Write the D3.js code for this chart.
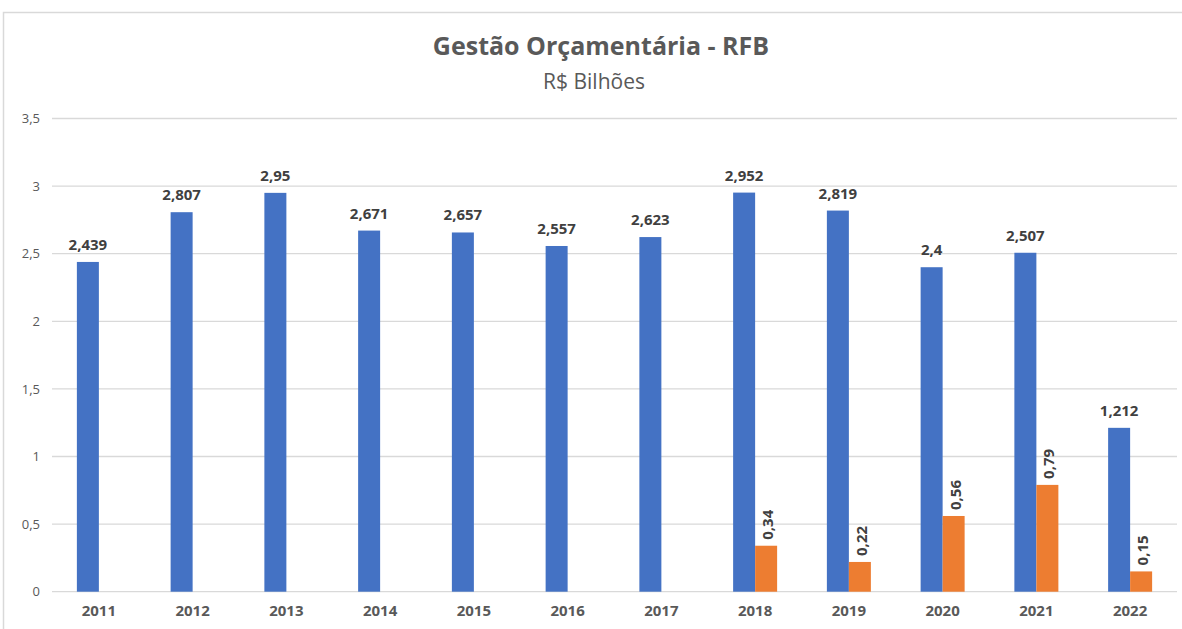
<!DOCTYPE html>
<html>
<head>
<meta charset="utf-8">
<script src="https://cdn.jsdelivr.net/npm/d3@7"></script>
<style>
  body { margin: 0; background: #fff; }
  svg { display: block; font-family: "Open Sans", "Liberation Sans", sans-serif; }
</style>
</head>
<body>
<div id="chart"></div>
<script>
// data
var years = ["2011", "2012", "2013", "2014", "2015", "2016", "2017", "2018", "2019", "2020", "2021", "2022"];
var serie1 = [2.439, 2.807, 2.95, 2.671, 2.657, 2.557, 2.623, 2.952, 2.819, 2.4, 2.507, 1.212];
var serie2 = [null, null, null, null, null, null, null, 0.34, 0.22, 0.56, 0.79, 0.15];
var y_ticks = [0, 0.5, 1, 1.5, 2, 2.5, 3, 3.5];

var W = 1182, H = 629;
var margin = {top: 118.5, right: 5, bottom: 37.3, left: 52};
var width = 1177 - margin.left,
    height = H - margin.top - margin.bottom;

var fmt = function(v) { return String(v).replace(".", ","); };

var svg = d3.select("#chart").append("svg")
    .attr("width", W)
    .attr("height", H);

// outer chart border
svg.append("rect")
    .attr("x", 3.5).attr("y", 12.5)
    .attr("width", W + 10).attr("height", H + 10)
    .attr("fill", "white")
    .attr("stroke", "#d9d9d9")
    .attr("stroke-width", 1.5);

// titles
svg.append("text")
    .attr("x", 601).attr("y", 55)
    .attr("text-anchor", "middle")
    .attr("font-size", "25px")
    .attr("font-weight", "bold")
    .attr("fill", "#595959")
    .text("Gestão Orçamentária - RFB");

svg.append("text")
    .attr("x", 594).attr("y", 89)
    .attr("text-anchor", "middle")
    .attr("font-size", "21px")
    .attr("fill", "#595959")
    .text("R$ Bilhões");

var g = svg.append("g")
    .attr("transform", "translate(" + margin.left + "," + margin.top + ")");

var x = d3.scaleBand().domain(years).range([0, width]).paddingInner(0).paddingOuter(0);
var barW = 22;
var y = d3.scaleLinear().domain([0, 3.5]).range([height, 0]);

// grid lines
g.append("g")
    .selectAll("line")
    .data(y_ticks)
    .enter()
    .append("line")
    .attr("x1", 0).attr("x2", width)
    .attr("y1", d => y(d)).attr("y2", d => y(d))
    .style("stroke", "#d9d9d9")
    .style("stroke-width", 1.3);

// y axis labels
g.append("g")
    .call(d3.axisLeft(y).tickValues(y_ticks).tickFormat(fmt).tickSize(0).tickPadding(12))
    .call(a => a.select(".domain").remove())
    .selectAll("text")
    .attr("font-size", "13px")
    .attr("font-family", "'Open Sans', sans-serif")
    .attr("fill", "#595959");

// x axis labels
g.append("g")
    .attr("transform", "translate(0," + height + ")")
    .call(d3.axisBottom(x).tickSize(0).tickPadding(14))
    .call(a => a.select(".domain").remove())
    .selectAll("text")
    .attr("font-size", "15px")
    .attr("font-weight", "bold")
    .attr("font-family", "'Open Sans', sans-serif")
    .attr("fill", "#595959");

var cx = function(i) { return x(years[i]) + x.bandwidth() / 2; };

// blue bars
g.selectAll(".bar1")
    .data(serie1)
    .enter()
    .append("rect")
    .attr("class", "bar1")
    .attr("x", (d, i) => cx(i) - barW)
    .attr("width", barW)
    .attr("y", d => y(d))
    .attr("height", d => height - y(d))
    .attr("fill", "#4472c4");

// orange bars
var s2 = serie2.map((v, i) => ({v: v, i: i})).filter(d => d.v != null);
g.selectAll(".bar2")
    .data(s2)
    .enter()
    .append("rect")
    .attr("class", "bar2")
    .attr("x", d => cx(d.i))
    .attr("width", barW)
    .attr("y", d => y(d.v))
    .attr("height", d => height - y(d.v))
    .attr("fill", "#ed7d31");

// labels blue
g.selectAll(".lab1")
    .data(serie1)
    .enter()
    .append("text")
    .attr("x", (d, i) => cx(i) - barW / 2)
    .attr("y", d => y(d) - 12)
    .attr("text-anchor", "middle")
    .attr("font-size", "15px")
    .attr("font-weight", "bold")
    .attr("fill", "#404040")
    .text(fmt);

// labels orange, rotated
g.selectAll(".lab2")
    .data(s2)
    .enter()
    .append("text")
    .attr("transform", d => "translate(" + (cx(d.i) + barW / 2 + 1) + "," + (y(d.v) - 6) + ") rotate(-90)")
    .attr("text-anchor", "start")
    .attr("dominant-baseline", "central")
    .attr("font-size", "15px")
    .attr("font-weight", "bold")
    .attr("fill", "#404040")
    .text(d => fmt(d.v));
</script>
</body>
</html>
